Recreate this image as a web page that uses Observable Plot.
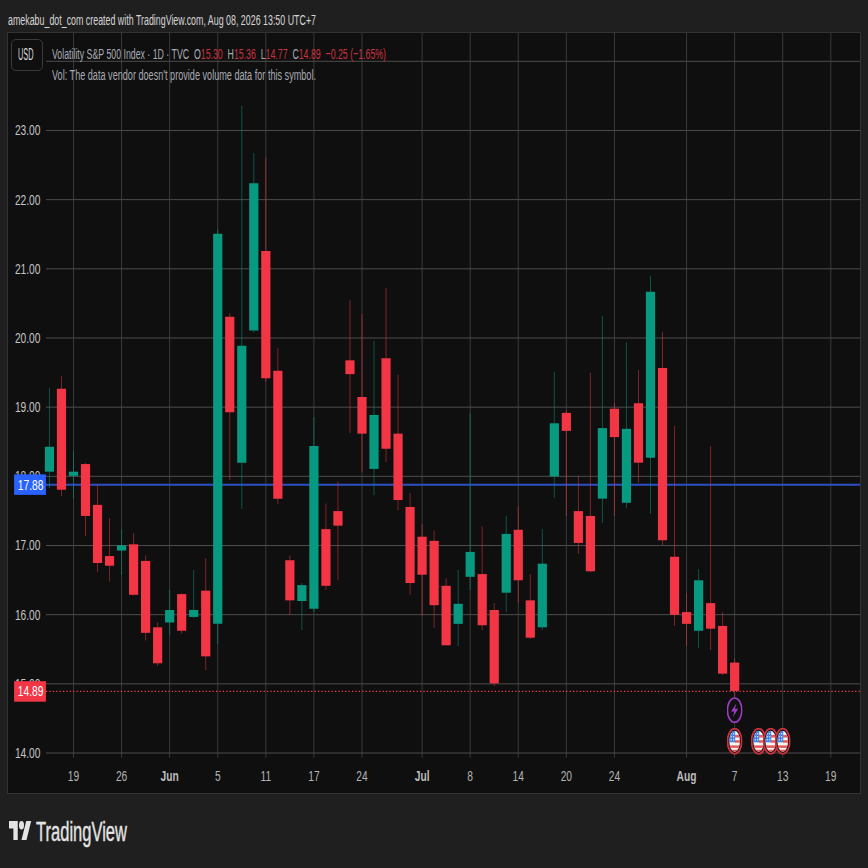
<!DOCTYPE html>
<html>
<head>
<meta charset="utf-8">
<script src="https://cdn.jsdelivr.net/npm/d3@7"></script>
<script src="https://cdn.jsdelivr.net/npm/@observablehq/plot@0.6"></script>
<style>
  html,body{margin:0;padding:0;background:#1f1f1f;width:868px;height:868px;overflow:hidden;}
  body{position:relative;font-family:"Liberation Sans Narrow","Liberation Sans",sans-serif;}
  .t{position:absolute;white-space:pre;transform-origin:left center;line-height:16px;}
  #panel{position:absolute;left:8px;top:33px;width:852px;height:760px;background:#0f0f0f;outline:1.5px solid #333;}
  #panel svg{display:block;background:transparent;}
  #usd{position:absolute;left:10.5px;top:38.5px;width:32px;height:32px;border:1px solid #3a3a3a;border-radius:5px;box-sizing:border-box;background:#0f0f0f;}
  #logo{position:absolute;left:9px;top:820.5px;width:22.5px;height:19px;}
</style>
</head>
<body>
<div id="panel"></div>
<div id="usd"></div>
<div class="t" id="usdt" style="left:17.5px;top:47px;color:#d8d8d8;font-size:16px;">USD</div>
<div class="t" id="cap" style="left:8px;top:12px;color:#d6d6d6;font-size:15.5px;">amekabu_dot_com created with TradingView.com, Aug 08, 2026 13:50 UTC+7</div>
<div class="t" id="leg" style="left:52px;top:46px;font-size:15.5px;color:#a8abb3;">Volatility S&amp;P 500 Index · 1D · TVC  O<span class="r">15.30</span>  H<span class="r">15.36</span>  L<span class="r">14.77</span>  C<span class="r">14.89</span>  <span class="r">−0.25 (−1.65%)</span></div>
<div class="t" id="vol" style="left:52px;top:67px;font-size:15.5px;color:#a8abb3;">Vol: The data vendor doesn't provide volume data for this symbol.</div>
<svg id="logo" viewBox="0 4 36 18" preserveAspectRatio="none"><path fill="#e4e4e4" d="M14 22H7V11H0V4h14v18zM28 22h-8l7.5-18h8L28 22z"/><circle fill="#e4e4e4" cx="20" cy="8" r="4"/></svg>
<div class="t" id="brand" style="left:36px;top:819px;font-size:27px;line-height:26px;color:#e4e4e4;-webkit-text-stroke:.4px #e4e4e4;">TradingView</div>
<script>
const opens  = [18.06,19.26,18.00,18.17,17.58,16.84,16.92,17.01,16.77,15.81,15.88,16.29,15.96,16.34,15.86,20.30,18.19,20.10,21.25,19.52,16.78,16.19,16.08,17.23,17.49,19.67,19.14,18.10,19.70,18.61,17.55,17.12,17.06,16.41,15.86,16.54,16.58,16.06,16.31,17.22,16.20,15.81,17.99,18.91,17.49,17.42,17.67,18.97,17.61,19.05,18.26,19.56,16.83,16.03,15.76,16.16,15.83,15.30];
const closes = [18.42,17.80,18.06,17.42,16.74,16.70,16.996,16.28,15.73,15.29,16.06,15.76,16.06,15.39,21.50,18.92,19.88,22.23,19.41,17.67,16.20,16.42,18.43,16.41,17.28,19.47,18.61,18.88,18.39,17.65,16.45,16.57,16.13,15.55,16.15,16.90,15.84,15.00,17.16,16.49,15.66,16.73,18.76,18.65,17.03,16.62,18.69,18.56,18.68,18.19,20.66,17.07,15.99,15.86,16.49,15.79,15.14,14.89];
const highs  = [19.27,19.44,18.36,18.19,17.87,17.39,17.22,17.17,16.85,15.88,16.35,16.30,16.64,16.81,21.57,20.35,23.35,22.67,22.60,19.85,16.85,16.45,18.85,17.60,17.92,20.54,20.34,19.95,20.72,19.46,17.75,17.30,17.21,16.52,16.64,18.91,17.27,16.16,17.42,17.56,16.58,17.23,19.50,18.95,18.00,19.49,20.31,19.05,19.93,19.53,20.89,20.08,18.72,16.31,16.65,18.43,16.03,15.36];
const lows   = [17.82,17.71,17.67,17.13,16.61,16.47,16.57,16.27,15.62,15.25,15.70,15.72,15.94,15.19,15.57,17.94,17.52,20.07,19.36,17.59,15.99,15.77,16.03,16.35,16.49,18.62,18.05,17.72,18.20,17.50,16.28,15.98,15.80,15.55,15.54,16.35,15.77,14.96,16.03,16.16,15.64,15.77,17.68,17.42,16.87,16.60,17.32,17.42,17.53,17.90,17.45,17.00,15.83,15.54,15.51,15.48,15.12,14.77];

const dayTicks   = [2,6,14,18,22,26,35,39,43,47,57,61,65];
const dayLabels  = ["19","26","5","11","17","24","8","14","20","24","7","13","19"];
const monthTicks = [10,31,53];
const monthLabels= ["Jun","Jul","Aug"];
const priceTicks = [14,15,16,17,18,19,20,21,22,23];
const priceGrid  = [14,15,16,17,18,19,20,21,22,23,24];
const flagEvents = [57,59,60,61];
const flagLevel  = 14.17;
const boltEvents = [57];
const boltLevel  = 14.62;
const lastPrice  = 14.89;
const linePrice  = 17.88;

const GREEN="#089981", RED="#f23645", BLUE="#2962ff";
const rows = opens.map((o,i)=>({i,o,c:closes[i],h:highs[i],l:lows[i],col:closes[i]>=o?GREEN:RED}));

const flagSvg = `<svg xmlns='http://www.w3.org/2000/svg' width='16' height='27' viewBox='0 0 16 27'><ellipse cx='8' cy='13.5' rx='7.1' ry='12.6' fill='#101010' stroke='#cc3340' stroke-width='1.8'/><clipPath id='c'><ellipse cx='8' cy='13.5' rx='5.3' ry='10.5'/></clipPath><g clip-path='url(#c)'><rect width='16' height='27' fill='#f4f4f4'/><rect y='7.2' x='8' width='8' height='2.6' fill='#e85c5c'/><rect y='12.4' x='8' width='8' height='2.6' fill='#e85c5c'/><rect y='17.6' width='16' height='2.6' fill='#e85c5c'/><rect y='22' width='16' height='3' fill='#e85c5c'/><rect y='2' width='8.5' height='12.5' fill='#3f83e8'/><g fill='#dfeaff'><circle cx='4.5' cy='6' r='.7'/><circle cx='7' cy='6' r='.7'/><circle cx='4.5' cy='9' r='.7'/><circle cx='7' cy='9' r='.7'/><circle cx='4.5' cy='12' r='.7'/><circle cx='7' cy='12' r='.7'/></g></g></svg>`;
const boltSvg = `<svg xmlns='http://www.w3.org/2000/svg' width='16' height='26' viewBox='0 0 16 26'><ellipse cx='8' cy='13' rx='7.2' ry='12.2' fill='#101010' stroke='#a23cc8' stroke-width='1.6'/><path d='M9.8 6 4.5 14.3h3.2L6.3 20.2 11.5 11.7H8.3z' fill='#a23cc8'/></svg>`;
const uri = s => "data:image/svg+xml;utf8," + encodeURIComponent(s);

const TAG_X1 = -2.9, TAG_X2 = -0.25, TAG_TXT = -1.57;

const plot = Plot.plot({
  width:852, height:760,
  marginLeft:38, marginRight:0, marginTop:0, marginBottom:35.3,
  style:{background:"transparent",fontFamily:'"Liberation Sans Narrow","Liberation Sans",sans-serif',overflow:"visible"},
  x:{type:"linear",domain:[-0.245,67.47],axis:null},
  y:{type:"linear",domain:[13.925,24.402],axis:null},
  marks:[
    Plot.ruleX([...dayTicks,...monthTicks],{stroke:"#3a3a3a",strokeWidth:1}),
    Plot.ruleY(priceGrid,{stroke:"#4c4c4c",strokeWidth:1}),
    Plot.axisY({ticks:priceTicks,tickSize:0,tickPadding:6,label:null,fontSize:15.5,tickFormat:d=>d.toFixed(2),color:"#c4c4c4"}),
    Plot.axisX({ticks:dayTicks,tickSize:0,tickPadding:12,label:null,fontSize:15.5,tickFormat:d=>dayLabels[dayTicks.indexOf(d)],color:"#b4b4b4"}),
    Plot.axisX({ticks:monthTicks,tickSize:0,tickPadding:12,label:null,fontSize:15.5,fontWeight:"bold",tickFormat:d=>monthLabels[monthTicks.indexOf(d)],color:"#bdbdbd"}),
    Plot.ruleY([linePrice],{stroke:"#2c4fc4",strokeWidth:2}),
    Plot.ruleY([lastPrice],{stroke:"#ff3e50",strokeWidth:1.2,strokeDasharray:"1.2 2.2"}),
    Plot.ruleX(rows,{x:"i",y1:"l",y2:"h",stroke:"col",strokeWidth:1,strokeOpacity:.5}),
    Plot.ruleX(rows,{x:"i",y1:"o",y2:"c",stroke:"col",strokeWidth:9.2}),
    Plot.image(boltEvents,{x:d=>d,y:()=>boltLevel,src:()=>uri(boltSvg),width:16,height:26}),
    Plot.image(flagEvents,{x:d=>d,y:()=>flagLevel,src:()=>uri(flagSvg),width:16,height:27}),
    Plot.ruleY([linePrice],{x1:TAG_X1,x2:TAG_X2,stroke:BLUE,strokeWidth:20.5}),
    Plot.ruleY([lastPrice],{x1:TAG_X1,x2:TAG_X2,stroke:RED,strokeWidth:20.5}),
    Plot.text([linePrice],{x:()=>TAG_TXT,y:d=>d,text:d=>d.toFixed(2),fill:"#fff",fontSize:15.5}),
    Plot.text([lastPrice],{x:()=>TAG_TXT,y:d=>d,text:d=>d.toFixed(2),fill:"#fff",fontSize:15.5})
  ]
});
document.getElementById("panel").appendChild(plot);

document.querySelectorAll("#leg .r").forEach(s=>s.style.color="#c9323f");

// Tick and tag labels are squeezed horizontally as in the reference
plot.querySelectorAll("text").forEach(t=>{
  const tr=t.getAttribute("transform")||"";
  t.setAttribute("transform",tr+" scale(.66,1)");
});
// Fit HTML text to measured widths
function fit(id,w){const e=document.getElementById(id);const r=e.getBoundingClientRect().width;e.style.transform=`scaleX(${w/r})`;}
fit("cap",308);fit("leg",334);fit("vol",264);fit("brand",91);fit("usdt",15.5);
</script>
</body>
</html>
